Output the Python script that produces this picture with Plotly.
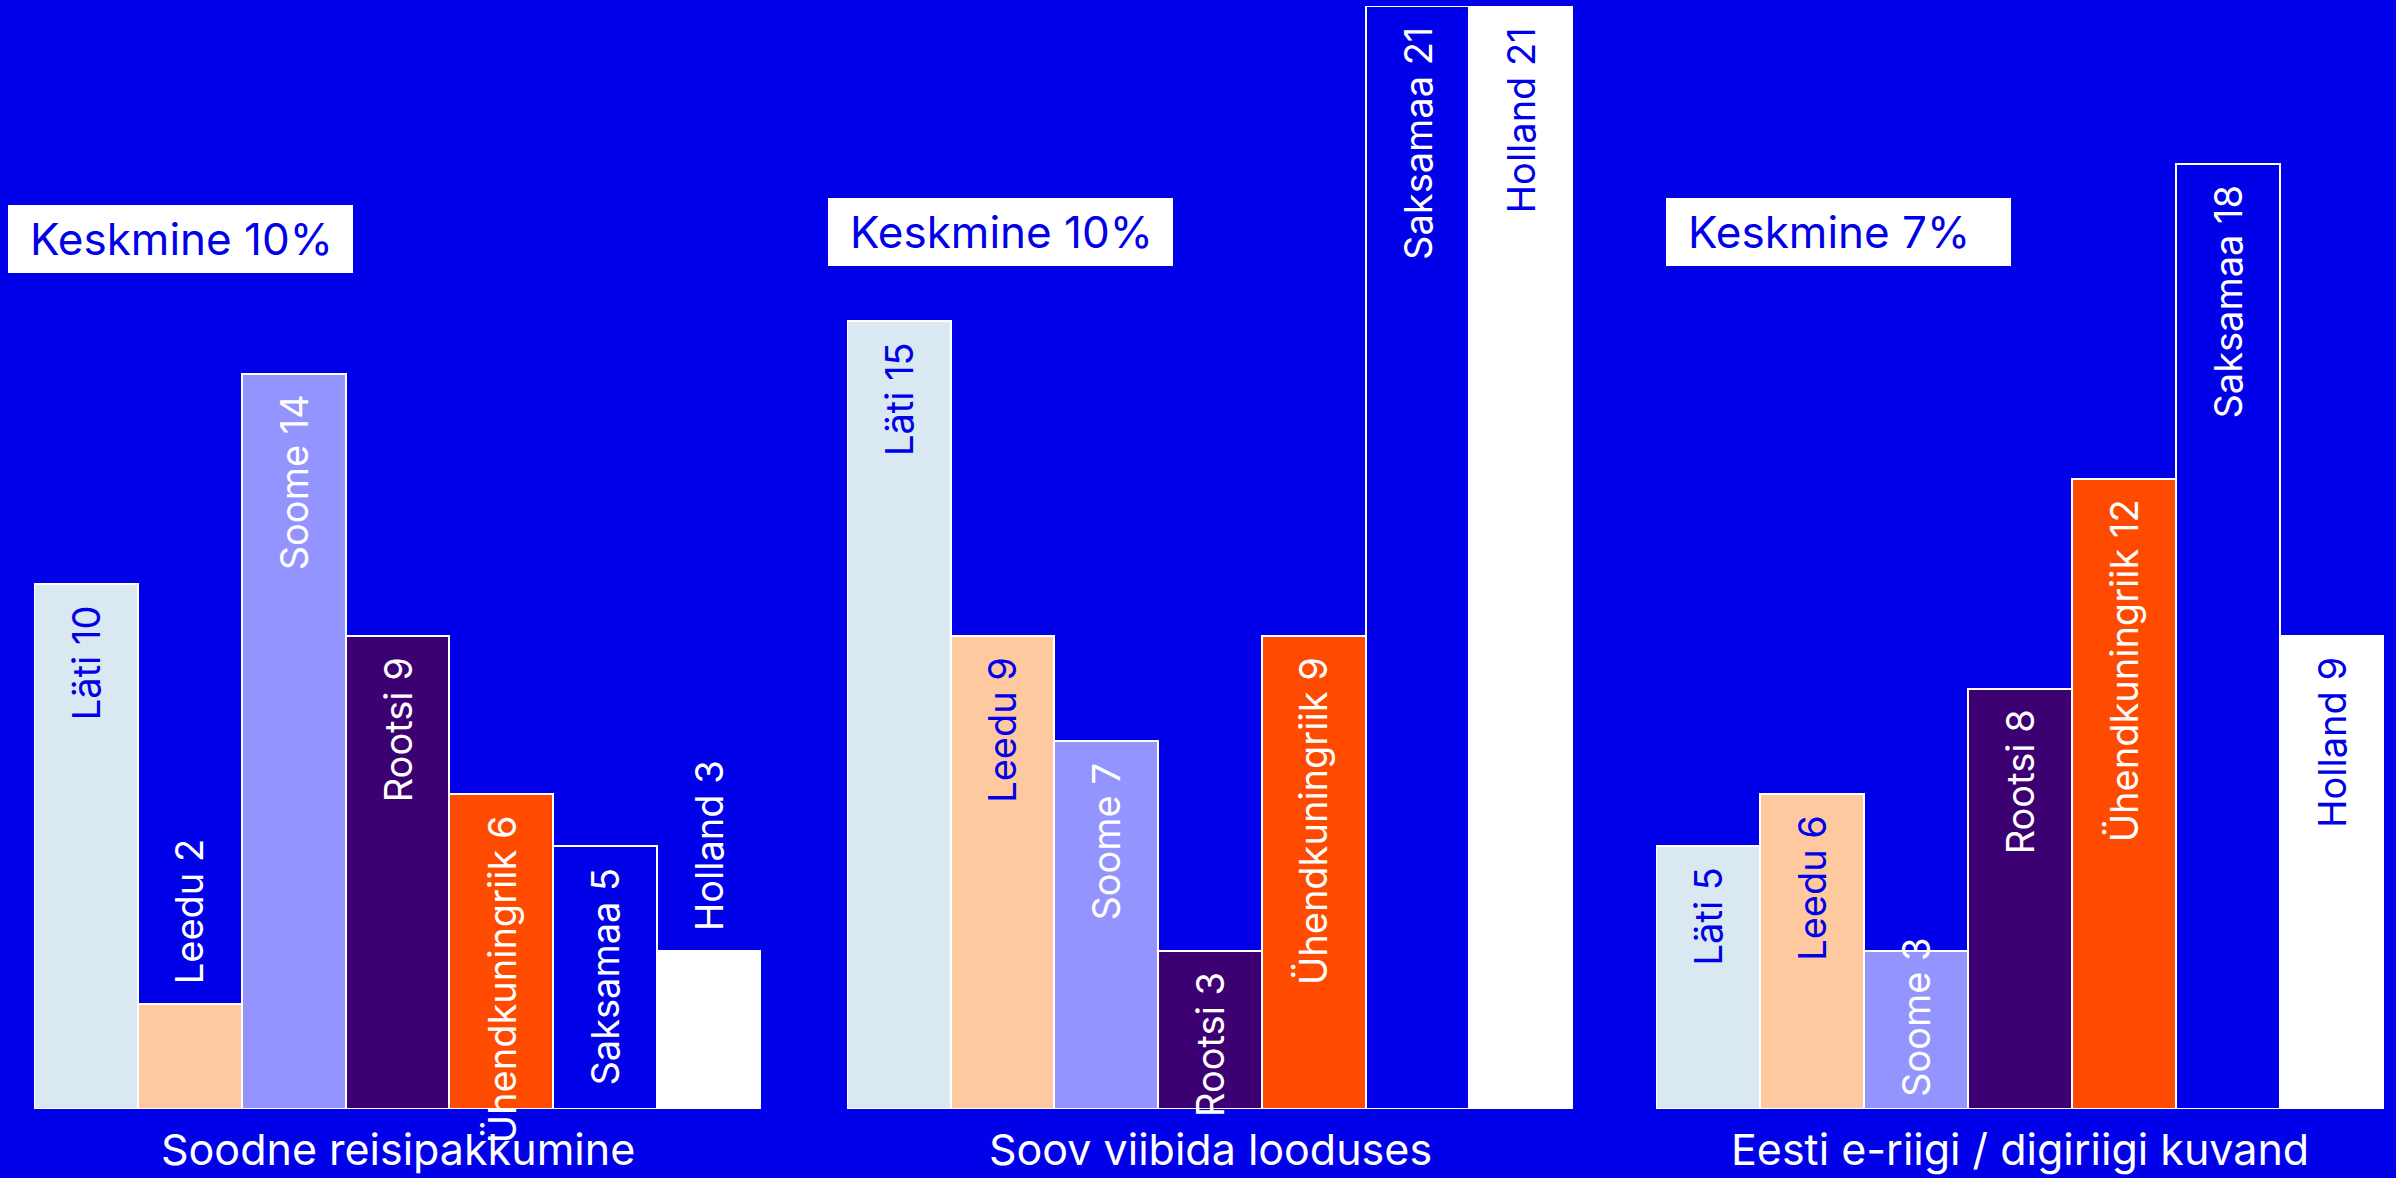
import plotly.graph_objects as go
from plotly.subplots import make_subplots

# ---------------- data ----------------
countries = ["Läti", "Leedu", "Soome", "Rootsi", "Ühendkuningriik", "Saksamaa", "Holland"]
group_titles = ["Soodne reisipakkumine", "Soov viibida looduses", "Eesti e-riigi / digiriigi kuvand"]
values_soodne = [10, 2, 14, 9, 6, 5, 3]
values_loodus = [15, 9, 7, 3, 9, 21, 21]
values_eriik = [5, 6, 3, 8, 12, 18, 9]
averages = [10, 10, 7]

# ---------------- style ----------------
BG = "#0000E9"
bar_colors = ["#DAE8F1", "#FFC9A0", "#9494FF", "#3D0073", "#FF4B00", "#0000E9", "#FFFFFF"]
label_colors = [BG, BG, "white", "white", "white", "white", BG]
FONT = "Inter"
W, H = 2396, 1178
M_T, M_B = 6, 69
PLOT_H = H - M_T - M_B
domains_px = [(34, 761), (847, 1573), (1656, 2384)]
box_px = [(8, 205), (828, 198), (1666, 198)]  # left, top of the "Keskmine" boxes
BOX_W, BOX_H = 345, 68
LABEL_SIZE = 38
YMAX = 21

# approximate Inter advance widths (em) to decide label placement
CW = {' ': .26, '0': .62, '1': .42, '2': .6, '3': .6, '4': .6, '5': .6, '6': .6, '7': .55, '8': .6,
      '9': .6, 'a': .56, 'd': .6, 'e': .57, 'g': .6, 'h': .58, 'i': .24, 'k': .52, 'l': .24,
      'm': .87, 'n': .58, 'o': .59, 'r': .37, 's': .52, 't': .36, 'u': .58, 'ä': .56,
      'H': .7, 'L': .5, 'R': .62, 'S': .6, 'Ü': .7}


def text_len(s, size):
    return sum(CW.get(c, .58) for c in s) * size * 0.93


series = [values_soodne, values_loodus, values_eriik]
fig = make_subplots(rows=1, cols=3, horizontal_spacing=0.02)
px_per_unit = PLOT_H / YMAX
annotations = []
shapes = []

for gi, vals in enumerate(series):
    fig.add_trace(
        go.Bar(
            x=countries, y=vals, width=1,
            marker=dict(color=bar_colors, line=dict(color="white", width=2)),
            hoverinfo="skip", showlegend=False,
        ),
        row=1, col=gi + 1,
    )
    xr = "x" if gi == 0 else f"x{gi + 1}"
    yr = "y" if gi == 0 else f"y{gi + 1}"
    for ci, (c, v) in enumerate(zip(countries, vals)):
        label = f"{c} {v}"
        L = text_len(label, LABEL_SIZE)
        bar_h = v * px_per_unit
        pad = 19
        if L + pad <= bar_h:
            y, ya, ys, col = v, "top", -pad, label_colors[ci]
        elif label_colors[ci] == "white":
            y, ya, ys, col = 0, "bottom", 10, "white"
        else:
            y, ya, ys, col = v, "bottom", 18, "white"
        annotations.append(dict(
            x=c, y=y, xref=xr, yref=yr, text=label, textangle=-90, showarrow=False,
            xanchor="center", yanchor=ya, yshift=ys,
            font=dict(family=FONT, size=LABEL_SIZE, color=col),
        ))
    # group title below axis
    d0, d1 = domains_px[gi]
    annotations.append(dict(
        x=(d0 + d1) / 2 / W, y=0, xref="paper", yref="paper", yshift=-40,
        text=group_titles[gi], showarrow=False, xanchor="center", yanchor="middle",
        font=dict(family=FONT, size=43, color="white"),
    ))
    # "Keskmine" box
    bx, by = box_px[gi]
    y_top = (H - M_B - by) / PLOT_H
    y_bot = (H - M_B - by - BOX_H) / PLOT_H
    shapes.append(dict(
        type="rect", xref="paper", yref="paper",
        x0=bx / W, x1=(bx + BOX_W) / W, y0=y_bot, y1=y_top,
        fillcolor="white", line=dict(width=0), layer="above",
    ))
    annotations.append(dict(
        x=(bx + 20) / W, y=(y_top + y_bot) / 2, xref="paper", yref="paper",
        text=f"Keskmine {averages[gi]}%", showarrow=False,
        xanchor="left", yanchor="middle",
        font=dict(family=FONT, size=44, color=BG),
    ))

for gi in range(3):
    d0, d1 = domains_px[gi]
    axx = "xaxis" if gi == 0 else f"xaxis{gi + 1}"
    axy = "yaxis" if gi == 0 else f"yaxis{gi + 1}"
    fig.update_layout({
        axx: dict(domain=[d0 / W, d1 / W], range=[-0.5, 6.5], showticklabels=False,
                  showgrid=False, zeroline=False, showline=False, ticks="", fixedrange=True),
        axy: dict(range=[0, YMAX], showticklabels=False, showgrid=False, zeroline=False,
                  showline=False, ticks="", fixedrange=True),
    })

fig.update_layout(
    width=W, height=H,
    margin=dict(l=0, r=0, t=M_T, b=M_B),
    paper_bgcolor=BG, plot_bgcolor=BG,
    bargap=0, showlegend=False,
    annotations=annotations, shapes=shapes,
    font=dict(family=FONT),
)

fig.write_html(
    "out.html",
    config={"displayModeBar": False},
    post_script=(
        "document.documentElement.style.margin='0';"
        "document.body.style.margin='0';"
        "document.body.style.overflow='hidden';"
        "document.body.style.background='" + BG + "';"
    ),
)
